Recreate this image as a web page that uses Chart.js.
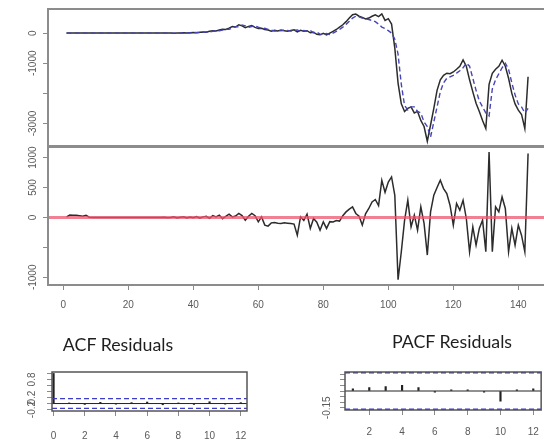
<!DOCTYPE html>
<html>
<head>
<meta charset="utf-8">
<script src="https://cdn.jsdelivr.net/npm/chart.js@4.4.1/dist/chart.umd.min.js"></script>
<style>
  html, body { margin: 0; padding: 0; background: #fff; width: 544px; height: 443px; overflow: hidden; position: relative; }
  canvas.layer { position: absolute; left: 0; top: 0; }
  .ttl { position: absolute; font-family: Lato, 'Open Sans', sans-serif; font-size: 17.8px; color: #1e1e1e;
         white-space: nowrap; transform: translate(-50%, -50%); line-height: 1; }
</style>
</head>
<body>
<canvas id="cTop" class="layer" width="550" height="443"></canvas>
<canvas id="cRes" class="layer" width="550" height="443"></canvas>
<canvas id="cAcf" class="layer" width="550" height="443"></canvas>
<canvas id="cPacf" class="layer" width="550" height="443"></canvas>
<div class="ttl" style="left:118px; top:345px;">ACF Residuals</div>
<div class="ttl" style="left:452px; top:342px;">PACF Residuals</div>
<script>
// ---- series (t = 1 .. 143) ----
const observed = [
  0,0,0,0,0,0,0,0,0,0,
  0,0,0,0,0,0,0,0,0,0,
  0,0,0,0,0,0,0,0,0,0,
  0,0,0,-5,0,
  5,10,0,15,20,10,30,40,30,60,80,70,100,130,120,
  167,220,200,277,240,180,222,250,190,150,160,120,100,
  60,90,70,100,80,60,90,110,40,90,60,80,10,30,-40,-57,-10,-60,0,60,
  120,200,277,380,500,610,630,560,520,470,500,560,610,550,640,420,480,300,
  -500,-1660,-2350,-2600,-2500,-2450,-2650,-2600,-2900,-3100,-3590,-3050,-2500,-1900,
  -1550,-1400,-1330,-1350,-1290,-1200,-1100,-890,-1100,-1550,-1950,-2330,-2600,-2900,
  -3167,-1700,-1333,-1200,-1100,-900,-1100,-1500,-2000,-2350,-2557,-2700,-3167,-1447
];
const fitted = [
  0,0,0,0,0,0,0,0,0,0,
  0,0,0,0,0,0,0,0,0,0,
  0,0,0,0,0,0,0,0,0,0,
  0,0,0,0,0,
  0,5,10,5,15,20,15,30,40,35,60,80,75,100,125,
  125,165,215,205,270,240,190,220,245,195,155,160,125,
  100,65,90,75,100,85,65,90,105,50,85,65,80,15,30,-35,-50,-15,-50,0,
  60,120,200,290,390,500,560,540,500,470,450,420,380,300,200,150,80,0,
  -200,-700,-1700,-2400,-2550,-2450,-2450,-2600,-2650,-2950,-3100,-3450,-2950,-2450,
  -1950,-1650,-1500,-1450,-1400,-1330,-1250,-1150,-1000,-1100,-1500,-1900,-2250,-2450,
  -2650,-2750,-1850,-1550,-1350,-1150,-1000,-1200,-1650,-2050,-2350,-2450,-2650,-2500
];
const residuals = [
  10,40,38,35,30,20,35,5,0,0,
  0,0,0,0,0,0,0,0,0,0,
  0,0,0,0,0,0,0,0,0,0,
  5,-5,0,10,-8,5,12,-10,8,-5,15,-12,10,20,-15,
  30,10,40,-20,20,55,10,25,67,30,
  -45,20,67,30,-73,10,-128,-145,
  -90,-85,-95,-100,-90,-95,-100,-110,
  -295,10,-50,55,-183,-17,-80,-212,-73,-183,-70,-75,-50,-60,30,93,140,177,67,20,-128,60,150,260,300,
  200,620,420,590,677,370,-1040,-573,-50,288,-157,38,-212,177,-100,-628,93,372,500,622,
  483,400,200,-128,233,122,288,-17,-573,-157,-462,-183,-45,-573,1093,-573,177,93,343,150,
  -573,-183,-462,-128,-300,-573,1067
];
const acfLags = [0,1,2,3,4,5,6,7,8,9,10,11,12];
const acfValues = [1,0.02,-0.03,0.04,-0.02,0.03,0.05,-0.04,0.02,-0.03,0.06,-0.02,0.03];
const pacfLags = [1,2,3,4,5,6,7,8,9,10,11,12];
const pacfValues = [0.02,0.03,0.04,0.05,0.03,-0.01,0.01,0.01,-0.01,-0.09,0.01,0.02];
const confLimit = 0.164;
const zeroLevel = 0;

// ---- ticks and labels ----
const timeTicks = [0,20,40,60,80,100,120,140];
const topTicks = [0,-1000,-2000,-3000];
const topTickLabels = ['0','-1000','','-3000'];
const resTicks = [1000,500,0,-500,-1000];
const resTickLabels = ['1000','500','0','','-1000'];
const acfYTicks = [-0.2,0,0.2,0.4,0.6,0.8,1.0];
const acfYLabels = ['-0.2','','0.2','','','0.8',''];
const acfXTicks = [0,2,4,6,8,10,12];
const pacfYTicks = [-0.15,-0.10,-0.05,0,0.05,0.10,0.15];
const pacfYLabels = ['-0.15','','','','','',''];
const pacfXTicks = [2,4,6,8,10,12];

// ---- drawing setup ----
const CW = 550, CH = 443;
const TICK_FONT = "'Liberation Sans', Arial, sans-serif";
const FRAME_GREY = '#8c8c8c';
const TICK_GREY = '#8a8a8a';
const LABEL_GREY = '#5a5a5a';

const toPoints = (xs, ys) => ys.map((v, i) => ({ x: xs ? xs[i] : i + 1, y: v }));

// box round the plotting region, like R's box()
const framePlugin = {
  id: 'frame',
  afterDraw(chart, args, o) {
    const a = chart.chartArea, ctx = chart.ctx;
    ctx.save();
    ctx.strokeStyle = o.color; ctx.lineWidth = o.width;
    ctx.strokeRect(a.left, a.top, a.right - a.left, a.bottom - a.top);
    ctx.restore();
  }
};
// horizontal reference lines (abline(h = ...))
const refLinesPlugin = {
  id: 'refLines',
  afterDatasetsDraw(chart, args, o) {
    if (!o.lines) return;
    const a = chart.chartArea, ctx = chart.ctx, ys = chart.scales.y;
    ctx.save();
    ctx.beginPath(); ctx.rect(a.left, a.top, a.right - a.left, a.bottom - a.top); ctx.clip();
    for (const l of o.lines) {
      const py = ys.getPixelForValue(l.value);
      ctx.strokeStyle = l.color; ctx.lineWidth = l.width;
      ctx.setLineDash(l.dash || []);
      ctx.beginPath(); ctx.moveTo(a.left, py); ctx.lineTo(a.right, py); ctx.stroke();
    }
    ctx.restore();
  }
};
// y tick labels written parallel to the axis
const yLabelsPlugin = {
  id: 'yLabels',
  afterDraw(chart, args, o) {
    if (!o.values) return;
    const a = chart.chartArea, ctx = chart.ctx, ys = chart.scales.y;
    ctx.save();
    ctx.fillStyle = LABEL_GREY; ctx.font = o.font;
    ctx.textAlign = 'center'; ctx.textBaseline = 'middle';
    o.values.forEach((v, i) => {
      const lab = o.labels[i];
      if (!lab) return;
      ctx.save();
      ctx.translate(a.left - o.offset, ys.getPixelForValue(v));
      ctx.rotate(-Math.PI / 2);
      ctx.fillText(lab, 0, 0);
      ctx.restore();
    });
    ctx.restore();
  }
};

function layoutFor(area, yW, xH) {
  return { padding: { left: area.l - yW, top: area.t, right: CW - area.r, bottom: CH - area.b - xH } };
}
function fixedTicks(list) {
  return (scale) => { scale.ticks = list.map(v => ({ value: v })); };
}
function yScale(min, max, ticks, width) {
  return {
    type: 'linear', min, max,
    afterBuildTicks: fixedTicks(ticks),
    afterFit: (s) => { s.width = width; },
    ticks: { display: false },
    grid: { drawOnChartArea: false, drawTicks: true, tickLength: 5, color: TICK_GREY, lineWidth: 1 },
    border: { display: false }
  };
}
function xScale(min, max, ticks, showLabels, height, pad) {
  return {
    type: 'linear', min, max, offset: false,
    afterBuildTicks: fixedTicks(ticks),
    afterFit: (s) => { s.height = height; },
    display: showLabels ? true : false,
    ticks: { display: showLabels, padding: pad, color: LABEL_GREY, font: { family: TICK_FONT, size: 10 },
             maxRotation: 0, minRotation: 0, callback: (v) => String(v) },
    grid: { drawOnChartArea: false, drawTicks: true, tickLength: 5, color: TICK_GREY, lineWidth: 1, offset: false },
    border: { display: false }
  };
}
const basePlugins = (extra) => Object.assign({
  legend: { display: false }, tooltip: { enabled: false },
  frame: { color: FRAME_GREY, width: 2 }
}, extra);

Chart.defaults.animation = false;
Chart.defaults.events = [];

// ---- series with fitted values ----
const topArea = { l: 48, t: 9, r: 546.6, b: 146 };
new Chart(document.getElementById('cTop'), {
  type: 'line',
  data: { datasets: [
    { data: toPoints(null, fitted), borderColor: '#4646b8', borderWidth: 1.4, borderDash: [5, 3], pointRadius: 0, order: 0 },
    { data: toPoints(null, observed), borderColor: '#2c2c2c', borderWidth: 1.5, pointRadius: 0, order: 1 }
  ]},
  options: {
    responsive: false, devicePixelRatio: 1,
    layout: layoutFor(topArea, 40, 0),
    scales: { x: xScale(-4.7, 148.7, timeTicks, false, 0, 0), y: yScale(-3747, 800, topTicks, 40) },
    plugins: basePlugins({ yLabels: { values: topTicks, labels: topTickLabels, offset: 15, font: '10px ' + TICK_FONT } })
  },
  plugins: [framePlugin, yLabelsPlugin]
});

// ---- residuals ----
const resArea = { l: 48, t: 147, r: 546.6, b: 285 };
new Chart(document.getElementById('cRes'), {
  type: 'line',
  data: { datasets: [
    { data: toPoints(null, residuals), borderColor: '#2c2c2c', borderWidth: 1.5, pointRadius: 0 }
  ]},
  options: {
    responsive: false, devicePixelRatio: 1,
    layout: layoutFor(resArea, 40, 30),
    scales: { x: xScale(-4.7, 148.7, timeTicks, true, 30, 9), y: yScale(-1128, 1177, resTicks, 40) },
    plugins: basePlugins({
      refLines: { lines: [{ value: zeroLevel, color: 'rgba(236,86,110,0.75)', width: 3 }] },
      yLabels: { values: resTicks, labels: resTickLabels, offset: 15, font: '10px ' + TICK_FONT }
    })
  },
  plugins: [refLinesPlugin, framePlugin, yLabelsPlugin]
});

// ---- ACF of residuals ----
const acfArea = { l: 52, t: 372, r: 247, b: 411 };
new Chart(document.getElementById('cAcf'), {
  type: 'bar',
  data: { datasets: [
    { data: toPoints(acfLags, acfValues), backgroundColor: '#222', barThickness: 1.5 }
  ]},
  options: {
    responsive: false, devicePixelRatio: 1,
    layout: layoutFor(acfArea, 40, 30),
    scales: { x: xScale(-0.1, 12.4, acfXTicks, true, 30, 14), y: yScale(-0.248, 1.048, acfYTicks, 40) },
    plugins: basePlugins({
      refLines: { lines: [
        { value: zeroLevel, color: '#222', width: 1 },
        { value: confLimit, color: '#3c3cc8', width: 1.3, dash: [5, 3] },
        { value: -confLimit, color: '#3c3cc8', width: 1.3, dash: [5, 3] }
      ]},
      frame: { color: '#555', width: 1.5 },
      yLabels: { values: acfYTicks, labels: acfYLabels, offset: 20, font: '10px ' + TICK_FONT }
    })
  },
  plugins: [refLinesPlugin, framePlugin, yLabelsPlugin]
});

// ---- PACF of residuals ----
const pacfArea = { l: 345, t: 372, r: 546, b: 410 };
new Chart(document.getElementById('cPacf'), {
  type: 'bar',
  data: { datasets: [
    { data: toPoints(pacfLags, pacfValues), backgroundColor: '#222', barThickness: 1.5 }
  ]},
  options: {
    responsive: false, devicePixelRatio: 1,
    layout: layoutFor(pacfArea, 40, 30),
    scales: { x: xScale(0.52, 12.48, pacfXTicks, true, 30, 11), y: yScale(-0.17, 0.17, pacfYTicks, 40) },
    plugins: basePlugins({
      refLines: { lines: [
        { value: zeroLevel, color: '#222', width: 1 },
        { value: confLimit, color: '#3c3cc8', width: 1.5, dash: [5, 3] },
        { value: -confLimit, color: '#3c3cc8', width: 1.5, dash: [5, 3] }
      ]},
      frame: { color: '#555', width: 1.5 },
      yLabels: { values: pacfYTicks, labels: pacfYLabels, offset: 18, font: '10px ' + TICK_FONT }
    })
  },
  plugins: [refLinesPlugin, framePlugin, yLabelsPlugin]
});
</script>
</body>
</html>
